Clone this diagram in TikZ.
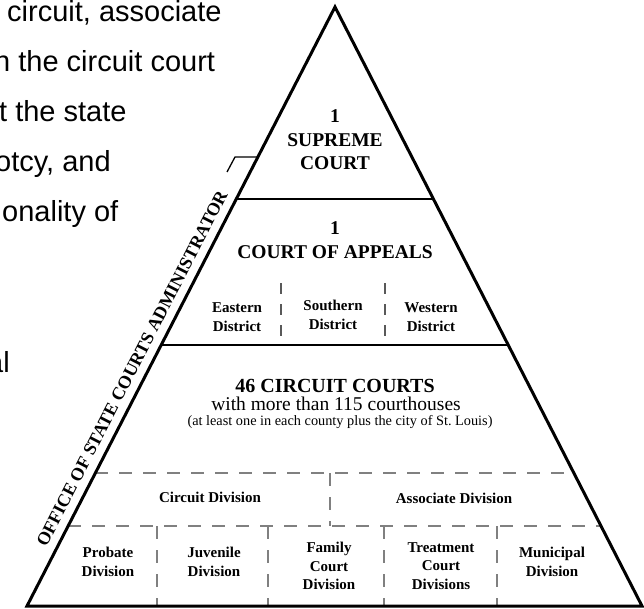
\documentclass[tikz,border=0pt]{standalone}
\usepackage{fontspec}
\setmainfont{Liberation Serif}
\newfontfamily\slidefont{Liberation Sans}
\usetikzlibrary{calc}
\tikzset{
  tier/.style={line width=2pt},
  divline/.style={gray,line width=2pt,dash pattern=on 13pt off 11pt},
  distline/.style={black!65,line width=1.4pt,dash pattern=on 11pt off 10pt},
  lbl/.style={font=\bfseries\fontsize{15}{18.5}\selectfont,align=center,inner sep=0pt},
  head/.style={font=\bfseries\fontsize{19.5}{23.5}\selectfont,align=center,inner sep=0pt},
  slide/.style={font=\slidefont\fontsize{29}{29}\selectfont,anchor=base west,inner sep=0pt}
}
\begin{document}
\begin{tikzpicture}[x=1pt,y=-1pt]
\useasboundingbox (0,0) rectangle (644,609);
\clip (0,0) rectangle (644,609);
% slide text behind the chart
\node[slide] (s1) at (7,22) {circuit, associate};
\node[slide] (s2) at (-6,72) {n the circuit court};
\node[slide] (s3) at (-1,122) {t the state};
\node[slide] (s4) at (-5,172) {otcy, and};
\node[slide] (s5) at (2,222) {onality of};
\node[slide] (s6) at (-13,372) {al};
% pyramid
\coordinate (A) at (335,7);
\coordinate (L) at (27,606);
\coordinate (R) at (642,606);
\draw[tier] ($(A)!0.3205!(L)$) -- ($(A)!0.3205!(R)$);
\draw[tier,line width=2.4pt] ($(A)!0.5643!(L)$) -- ($(A)!0.5643!(R)$);
\foreach \t in {0.778,0.8664}
  \draw[divline] ($(A)!\t!(L)$) -- ($(A)!\t!(R)$);
\foreach \x in {281,385}
  \draw[distline] (\x,283) -- (\x,345);
\draw[divline] (330,473) -- (330,526);
\foreach \x in {157,268,384,497}
  \draw[divline] (\x,526) -- (\x,606);
\draw[line width=3pt,line join=miter] (L) -- (A) -- (R) -- cycle;
% administrator along the left side
\coordinate (brk) at (257,157);
\draw[line width=1.3pt] (brk) -- (235,157) -- (227,172);
\path (L) -- (A) node[pos=0.385,sloped,above=9pt,inner sep=0pt,
  font=\bfseries\fontsize{18}{18}\selectfont] (osca) {OFFICE OF STATE COURTS ADMINISTRATOR};
% labels
\node[head] (sup) at (335,140) {1\\SUPREME\\COURT};
\node[head] (app) at (335,240) {1\\COURT OF APPEALS};
\node[lbl] (east) at (237,317) {Eastern\\District};
\node[lbl] (south) at (333,315) {Southern\\District};
\node[lbl] (west) at (431,317) {Western\\District};
\node[inner sep=0pt,anchor=base,font=\bfseries\fontsize{20}{20}\selectfont] (cc) at (335,392) {46 CIRCUIT COURTS};
\node[inner sep=0pt,anchor=base,font=\fontsize{19.5}{19.5}\selectfont] (ch) at (336,410) {with more than 115 courthouses};
\node[inner sep=0pt,anchor=base,font=\fontsize{14.3}{14.3}\selectfont] (cty) at (340,425) {(at least one in each county plus the city of St.~Louis)};
\node[lbl] (cdiv) at (210,497) {Circuit Division};
\node[lbl] (adiv) at (454,498) {Associate Division};
\node[lbl] (prob) at (108,562) {Probate\\Division};
\node[lbl] (juv) at (214,562) {Juvenile\\Division};
\node[lbl] (fam) at (329,566) {Family\\Court\\Division};
\node[lbl] (treat) at (441,566) {Treatment\\Court\\Divisions};
\node[lbl] (muni) at (552,562) {Municipal\\Division};
\end{tikzpicture}
\end{document}
